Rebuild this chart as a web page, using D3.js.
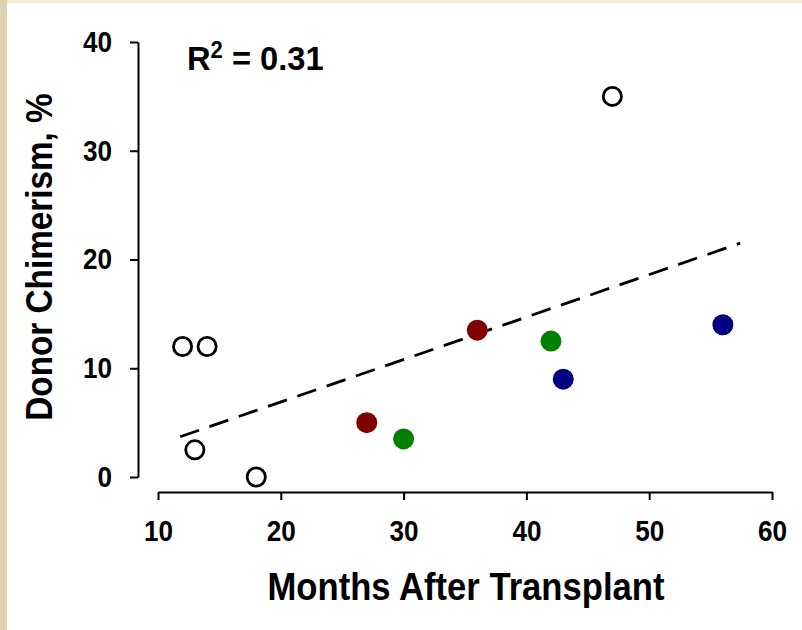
<!DOCTYPE html>
<html>
<head>
<meta charset="utf-8">
<script src="https://cdn.jsdelivr.net/npm/d3@7"></script>
<style>
  html, body { margin: 0; padding: 0; background: #ffffff; }
  svg { display: block; }
  text { font-family: "Liberation Sans", Arial, sans-serif; font-weight: bold; fill: #000; }
</style>
</head>
<body>
<svg id="chart" width="802" height="630"></svg>
<script>
// Months after transplant and donor chimerism (%) per patient, grouped by marker style
const openMonths   = [12, 14, 13, 18, 47];
const openChimer   = [12, 12, 2.5, 0, 35];
const redMonths    = [27, 36];
const redChimer    = [5, 13.5];
const greenMonths  = [30, 42];
const greenChimer  = [3.5, 12.5];
const blueMonths   = [43, 56];
const blueChimer   = [9, 14];

// Regression line end points
const fitMonths = [11.8, 57.4];
const fitChimer = [3.7, 21.5];

const xTicks = [10, 20, 30, 40, 50, 60];
const yTicks = [0, 10, 20, 30, 40];
const rSquared = "0.31";

// Slightly condensed lettering
const squeeze = 0.9;

const svg = d3.select("#chart");

// Page frame
svg.append("rect").attr("x", 0).attr("y", 0).attr("width", 802).attr("height", 630).attr("fill", "#ffffff");
svg.append("rect").attr("x", 0).attr("y", 0).attr("width", 802).attr("height", 3).attr("fill", "#f6ecd3");
svg.append("rect").attr("x", 0).attr("y", 0).attr("width", 7).attr("height", 630).attr("fill", "#dbd3b2");

const x = d3.scaleLinear().domain([10, 60]).range([158, 772]);
const y = d3.scaleLinear().domain([0, 40]).range([477, 42]);

// Axes (detached, SigmaPlot style)
const yAxis = svg.append("g")
  .attr("transform", "translate(138,0)")
  .call(d3.axisLeft(y).tickValues(yTicks).tickSize(8).tickSizeOuter(0).tickPadding(18));
const xAxis = svg.append("g")
  .attr("transform", "translate(0,492)")
  .call(d3.axisBottom(x).tickValues(xTicks).tickSize(8).tickSizeOuter(0).tickPadding(20));

[yAxis, xAxis].forEach(g => {
  g.select(".domain").attr("stroke", "#000").attr("stroke-width", 2);
  g.selectAll(".tick line").attr("stroke", "#000").attr("stroke-width", 2);
  g.selectAll(".tick text")
    .attr("fill", "#000")
    .style("font-family", "'Liberation Sans', Arial, sans-serif")
    .style("font-weight", "bold")
    .style("font-size", "29px");
});
// Condense tick labels about their anchor points
yAxis.selectAll(".tick text")
  .attr("x", function () { return +d3.select(this).attr("x") / squeeze; })
  .attr("transform", `scale(${squeeze},1)`);
xAxis.selectAll(".tick text")
  .attr("transform", `scale(${squeeze},1)`);

// Regression line
const fit = fitMonths.map((m, i) => [m, fitChimer[i]]);
svg.append("path")
  .datum(fit)
  .attr("d", d3.line().x(d => x(d[0])).y(d => y(d[1])))
  .attr("fill", "none")
  .attr("stroke", "#000")
  .attr("stroke-width", 2.8)
  .attr("stroke-dasharray", "20,11");

// Points
function drawGroup(months, chimer, fill, stroke, r, sw) {
  svg.append("g").selectAll("circle")
    .data(months.map((m, i) => [m, chimer[i]]))
    .join("circle")
    .attr("cx", d => x(d[0]))
    .attr("cy", d => y(d[1]))
    .attr("r", r)
    .attr("fill", fill)
    .attr("stroke", stroke)
    .attr("stroke-width", sw);
}
drawGroup(openMonths, openChimer, "#ffffff", "#000000", 9.1, 2.8);
drawGroup(redMonths, redChimer, "#800000", "none", 10.5, 0);
drawGroup(greenMonths, greenChimer, "#008000", "none", 10.5, 0);
drawGroup(blueMonths, blueChimer, "#000080", "none", 10.5, 0);

// R squared annotation
const r2 = svg.append("text")
  .attr("transform", "translate(187,70) scale(0.96,1)")
  .style("font-size", "34px");
r2.append("tspan").text("R");
r2.append("tspan").attr("dy", -12).style("font-size", "23px").text("2");
r2.append("tspan").attr("dy", 12).text(" = " + rSquared);

// Axis titles
svg.append("text")
  .attr("transform", `translate(466,600) scale(${squeeze},1)`)
  .attr("text-anchor", "middle")
  .style("font-size", "38.5px")
  .text("Months After Transplant");

svg.append("text")
  .attr("transform", `translate(52,257) rotate(-90) scale(${squeeze},1)`)
  .attr("text-anchor", "middle")
  .style("font-size", "37px")
  .text("Donor Chimerism, %");
</script>
</body>
</html>
